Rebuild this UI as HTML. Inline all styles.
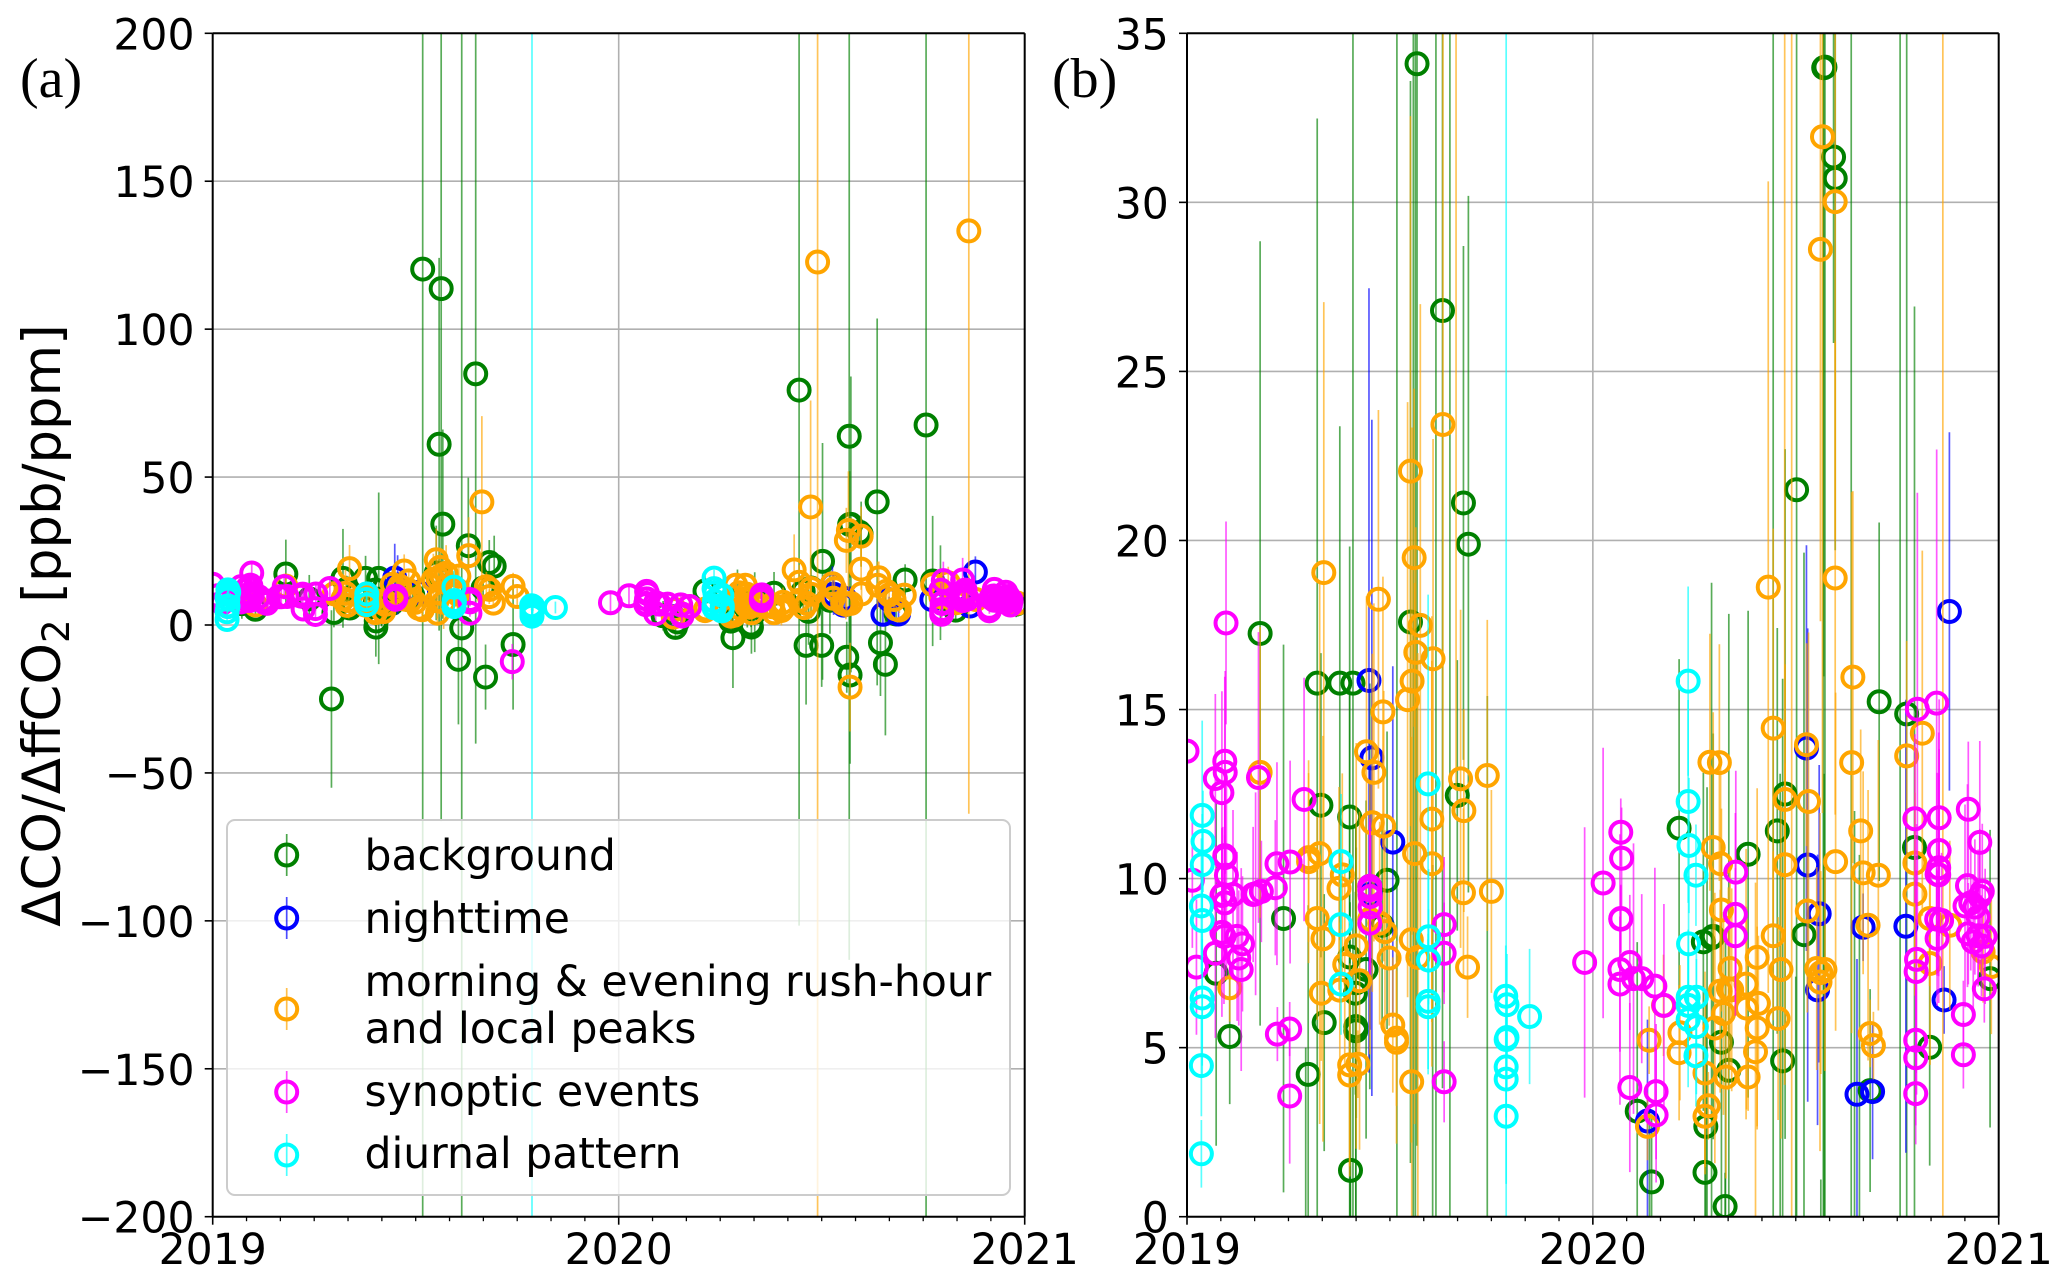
<!DOCTYPE html>
<html lang="en">
<head>
<meta charset="utf-8">
<title>Delta CO / Delta ffCO2 ratios</title>
<style>
html,body{margin:0;padding:0;background:#fff;width:2067px;height:1283px;overflow:hidden;}
svg{display:block;}
text{font-family:"DejaVu Sans","Liberation Sans",sans-serif;fill:#000;}
.serif{font-family:"Liberation Serif",serif;}
</style>
</head>
<body>
<svg id="figure" xmlns="http://www.w3.org/2000/svg" width="2067" height="1283" viewBox="0 0 2067 1283">
<defs>
<clipPath id="clip-a"><rect x="212.7" y="33.3" width="812" height="1183.4"/></clipPath>
<clipPath id="clip-b"><rect x="1187" y="33.3" width="811.7" height="1183.4"/></clipPath>
</defs>
<g id="panel-a"></g>
<g id="panel-b"></g>
<text class="serif" x="20" y="97" font-size="56">(a)</text>
<text class="serif" x="1052" y="97" font-size="56">(b)</text>
<text transform="translate(60,625.5) rotate(-90)" text-anchor="middle" font-size="52.9">ΔCO/ΔffCO<tspan font-size="37" dy="9">2</tspan><tspan dy="-9"> [ppb/ppm]</tspan></text>
<g>
<rect x="227" y="820" width="783" height="375" rx="8" ry="8" fill="#fff" fill-opacity="0.8" stroke="#cccccc" stroke-width="2"/>
<g>
<line x1="286.7" x2="286.7" y1="834" y2="876" stroke="#008000" stroke-width="1.7" opacity="0.7"/><circle cx="286.7" cy="855" r="10.5" fill="none" stroke="#008000" stroke-width="4"/>
<text x="364.5" y="870" font-size="42.5">background</text></g>
<g>
<line x1="286.7" x2="286.7" y1="897" y2="939" stroke="#0000ff" stroke-width="1.7" opacity="0.7"/><circle cx="286.7" cy="918" r="10.5" fill="none" stroke="#0000ff" stroke-width="4"/>
<text x="364.5" y="933" font-size="42.5">nighttime</text></g>
<g>
<line x1="286.7" x2="286.7" y1="988" y2="1030" stroke="#ffa500" stroke-width="1.7" opacity="0.7"/><circle cx="286.7" cy="1009" r="10.5" fill="none" stroke="#ffa500" stroke-width="4"/>
<text x="364.5" y="996" font-size="42.5">morning &amp; evening rush-hour</text>
<text x="364.5" y="1043" font-size="42.5">and local peaks</text></g>
<g>
<line x1="286.7" x2="286.7" y1="1071" y2="1113" stroke="#ff00ff" stroke-width="1.7" opacity="0.7"/><circle cx="286.7" cy="1092" r="10.5" fill="none" stroke="#ff00ff" stroke-width="4"/>
<text x="364.5" y="1106" font-size="42.5">synoptic events</text></g>
<g>
<line x1="286.7" x2="286.7" y1="1134" y2="1176" stroke="#00ffff" stroke-width="1.7" opacity="0.7"/><circle cx="286.7" cy="1155" r="10.5" fill="none" stroke="#00ffff" stroke-width="4"/>
<text x="364.5" y="1168" font-size="42.5">diurnal pattern</text></g>
</g>
</svg>
<script>
const xTicks = [0, 0.988, 1.976];
const xTickLabels = ["2019", "2020", "2021"];
const yTicksA = [200, 150, 100, 50, 0, -50, -100, -150, -200];
const yTicksB = [35, 30, 25, 20, 15, 10, 5, 0];

const backgroundDates = [.56,.622,.673,.685,.544,.178,.317,.372,.404,.326,.396,.658,.487,.445,.235,.475,.071,.104,.396,.436,.41,.412,.334,.411,.411,.295,.398,.511,.556,.64,.551,.731,.598,.664,.289,.606,1.427,1.549,1.736,1.617,1.484,1.55,1.574,1.578,1.444,1.482,1.543,1.551,1.625,1.637,1.266,1.311,.397,1.126,1.198,1.366,1.437,1.456,1.685,1.752,1.771,1.502,1.277,1.257,1.281,1.301,1.319,1.45,1.808,1.955,1.096,1.131,1.261,1.263,1.31,1.663,1.553];
const backgroundValues = [34.1,26.8,21.11,19.89,17.59,17.25,15.78,15.78,15.78,12.17,11.82,12.46,9.95,9.77,8.82,8.62,7.2,5.33,7.68,7.31,6.61,6.92,5.74,5.62,5.5,4.21,1.37,120.3,113.7,84.9,61.1,-6.6,-11.6,-17.6,-25,-1,79.4,63.8,67.6,41.6,21.5,33.98,31.34,30.71,-6.9,-6.9,-10.9,-16.9,-6,-13.3,-4.3,-.7,-.7,-.8,11.49,10.72,11.41,12.5,15.23,14.87,10.92,8.34,8.25,8.13,8.29,5.16,4.33,4.61,5.01,7.04,3.12,1.03,1.31,2.67,.3,3.73,34];
const backgroundErrors = [32,23,7.6,10.3,16,11.6,16.7,7.6,29,4.5,8,4,4.4,6,8.1,3,5.1,2,8,5,3,4,3.8,6,6,5,3,340,180,125,63,22,22,11,30,400,181,177,300,62,40,18,5.5,11,20,14,12,30,18,24,17,9,10,4,5,7.2,6,10.2,5.3,22,16,11.3,10.5,5,6,6,13.5,11.3,3.5,4.4,5,2,2,4,1,3,50];

const nighttimeDates = [.443,.45,.501,.446,1.121,1.508,1.511,1.539,1.535,1.631,1.669,1.646,1.75,1.843,1.856];
const nighttimeValues = [15.86,13.57,11.08,9.53,2.83,13.86,10.4,8.96,6.71,3.62,3.7,8.56,8.59,6.41,17.9];
const nighttimeErrors = [11.6,10,5.2,4,3,6,7,4.4,4,4,2,1,6.7,1,5.3];

const rushHourDates = [.333,.466,.623,.544,.553,.568,.557,.599,.548,.537,.477,.437,.455,.178,.451,.479,.596,.666,.731,.674,.554,.596,.673,.741,.296,.323,.296,.378,.37,.317,.331,.412,.384,.42,.327,.372,.482,.445,.469,.546,.562,.492,.683,.104,.396,.416,.396,.501,.51,.51,.547,1.415,1.547,1.578,1.542,1.578,1.472,1.84,1.551,.655,1.455,1.621,1.427,1.79,1.508,1.752,1.618,1.273,1.296,1.456,1.513,1.64,1.281,1.299,1.456,1.579,1.646,1.683,1.772,1.772,1.301,1.51,1.658,1.427,1.808,1.857,1.388,1.322,1.446,1.533,1.553,1.543,1.541,1.809,1.938,1.958,1.361,1.318,1.326,1.298,1.391,1.362,1.306,1.16,1.285,1.388,1.439,1.2,1.198,1.125,1.384,1.261,1.312,1.366,1.269,1.261,1.121,1.663,1.671];
const rushHourValues = [19.05,18.26,23.43,22.05,19.49,17.49,16.69,16.5,15.84,15.29,14.93,13.75,13.14,13.14,11.65,11.55,11.76,12.95,13.05,12.01,10.74,10.44,9.58,9.62,10.62,10.74,10.5,10.11,9.71,8.82,8.22,8.01,7.46,6.98,6.61,6.7,8.43,8.8,8.68,8.19,7.67,7.65,7.38,6.77,4.49,4.51,4.19,5.67,5.28,5.16,3.99,18.62,31.94,30.02,28.61,18.89,122.7,133.2,-21,41.6,39.9,15.96,14.45,14.3,13.96,13.63,13.43,13.44,13.43,12.34,12.28,11.41,10.92,10.44,10.41,10.5,10.17,10.1,10.46,9.54,9.07,9.04,8.62,8.31,8.82,8.62,7.67,7.34,7.31,7.34,7.31,7.22,6.94,7.49,7.83,7.4,6.88,6.74,6.71,6.67,6.31,6.17,6.01,6.25,5.58,5.58,5.86,5.44,4.85,5.22,4.88,4.25,4.13,4.13,3.28,2.97,2.67,5.42,5.06];
const rushHourErrors = [8,5.6,13,10.5,5,9.5,3.7,6.5,7.5,8.8,4,4.6,5,4.3,5,4,6,5,4.6,3,8,6,2.5,3,2.5,8,3,3,3,3,6,6,3,5,2,2,3,4,3,6,9,2,1.5,1,3,1,3,2,2,3,4,12,20,10,11,7,400,197,15,29,36,5.5,5.9,5.4,3,3.4,8,3.8,3.5,4,5,3,4,3,3,5,3,4,3,3,3,3,4,2.5,2,2.5,5,3,5,3,3,3,5,3,1.5,2,4,3,3,3,2,3,3,1.5,4,3,3,2,2,1,5,3,3,1,1,1.5,1,1,1];

const synopticDates = [0,.095,.092,.069,.093,.085,.174,.285,.092,.092,.096,.087,.085,.092,.013,.112,.167,.181,.161,.219,.251,.215,.085,.09,.122,.135,.126,.069,.132,.023,.22,.25,.25,.626,.626,.626,.445,.445,.446,.446,.445,.968,1.013,1.056,1.058,1.056,1.056,1.078,1.054,1.054,1.107,1.087,1.139,1.161,1.078,1.142,1.142,1.336,1.335,1.335,1.778,1.825,1.772,1.831,1.902,1.93,1.831,1.83,1.83,1.826,1.9,1.936,1.93,1.894,1.908,1.918,1.926,1.825,1.837,1.826,1.776,1.775,1.902,1.914,1.926,1.943,1.934,1.941,1.89,1.89,1.774,1.774,1.774,.729];
const synopticValues = [13.77,17.56,13.47,12.96,13.14,12.54,12.99,12.34,10.62,10.68,10.1,9.53,9.5,9.28,9.95,9.53,9.55,9.62,9.53,10.44,10.49,9.73,8.41,8.29,8.29,8.07,7.65,7.79,7.31,7.38,5.4,5.55,3.57,8.64,7.79,3.99,9.77,9.67,9.47,9.16,8.68,7.52,9.87,11.37,10.6,8.8,8.82,7.52,7.31,6.88,7.04,7.04,6.82,6.25,3.82,3.7,3.01,10.19,8.94,8.31,15.01,15.19,11.77,11.8,12.05,11.07,10.83,10.32,10.11,10.13,9.79,9.62,9.47,9.19,9.28,9.16,8.86,8.8,8.76,8.23,7.61,7.25,8.37,8.13,8.31,8.29,8.01,6.74,5.98,4.79,5.22,4.7,3.64,-12.4];
const synopticErrors = [2,3,2.5,2.5,3,3,4.3,3.6,2.5,2,3,2,2,2,2,2.5,3,1.5,2,3,3,2,2.5,2,2.5,2,2,2.5,3,2,.8,.8,2,2,1.5,1.2,2,2,2,2,1.5,4,4,1,1.5,1,1,2,4,2,2.5,4,3.5,3,2.5,2,2,3,3,2,6.4,7.5,2.5,3.5,2,3,3,4,3,3,3,2,2,3,2,2,2,1.5,2,2,4,3,1.5,2,1.5,2,1.5,1,1,1,2,2,1.5,6];

const diurnalDates = [.037,.039,.037,.035,.037,.037,.037,.035,.035,.375,.374,.375,.587,.588,.588,.587,.587,.776,.779,.779,.777,.777,.777,.777,.834,1.22,1.22,1.222,1.239,1.221,1.22,1.24,1.22,1.22,1.24,1.239];
const diurnalValues = [11.87,11.1,10.41,9.19,8.76,6.47,6.21,4.47,1.86,10.5,8.64,6.88,12.8,8.28,7.59,6.37,6.21,6.52,6.27,5.3,5.24,4.43,4.07,2.97,5.92,15.84,12.28,10.98,10.1,8.07,6.49,6.49,6.25,5.83,5.62,4.76];
const diurnalErrors = [2.8,1.5,1.5,2,1.5,2,2,1.5,1,2,2,1.5,5.6,2,1.5,2,2,1.5,1.5,1.5,400,1.5,1.5,2,2,2.8,3,2,1.5,2,2,1.5,1.5,2,2,1.5];

const seriesList = [
  {key: "background", color: "#008000", dates: backgroundDates, values: backgroundValues, errors: backgroundErrors},
  {key: "nighttime", color: "#0000ff", dates: nighttimeDates, values: nighttimeValues, errors: nighttimeErrors},
  {key: "rush-hour", color: "#ffa500", dates: rushHourDates, values: rushHourValues, errors: rushHourErrors},
  {key: "synoptic", color: "#ff00ff", dates: synopticDates, values: synopticValues, errors: synopticErrors},
  {key: "diurnal", color: "#00ffff", dates: diurnalDates, values: diurnalValues, errors: diurnalErrors}
];

const NS = "http://www.w3.org/2000/svg";
function make(parent, tag, attrs) {
  const el = document.createElementNS(NS, tag);
  for (const k in attrs) el.setAttribute(k, attrs[k]);
  parent.appendChild(el);
  return el;
}

function drawPanel(panelId, clipId, left, right, top, bottom, yMin, yMax, yTicks, tickRight) {
  const host = document.getElementById(panelId);
  const xMax = xTicks[xTicks.length - 1];
  const xScale = t => left + (t / xMax) * (right - left);
  const yScale = v => bottom - (v - yMin) / (yMax - yMin) * (bottom - top);
  const clampY = y => Math.min(bottom, Math.max(top, y));

  const grid = make(host, "g", {});
  
  
  yTicks.forEach(v => {
    const g = make(grid, "line", {x1: left, x2: right, y1: yScale(v), y2: yScale(v), stroke: "#b0b0b0", "stroke-width": 1.6});
    
    
  });
  xTicks.forEach(t => {
    const g = make(grid, "line", {x1: xScale(t), x2: xScale(t), y1: top, y2: bottom, stroke: "#b0b0b0", "stroke-width": 1.6});
    
    
  });

  const plot = make(host, "g", {"clip-path": "url(#" + clipId + ")"});
  
  
  seriesList.forEach(s => {
    const sg = make(plot, "g", {});
    
    
    s.dates.forEach((t, i) => {
      const hi = s.values[i] + s.errors[i];
      const lo = s.values[i] - s.errors[i];
      if (hi < yMin || lo > yMax) return;
      const bar = make(sg, "line", {x1: xScale(t), x2: xScale(t), y1: clampY(yScale(hi)), y2: clampY(yScale(lo)), stroke: s.color, "stroke-width": 1.7, opacity: 0.65});
      
      
    });
    s.dates.forEach((t, i) => {
      const cy = yScale(s.values[i]);
      if (cy < top - 13 || cy > bottom + 13) return;
      const pt = make(sg, "circle", {cx: xScale(t), cy: cy, r: 10.5, fill: "none", stroke: s.color, "stroke-width": 4});
      
      
    });
  });

  const axes = make(host, "g", {});
  
  
  make(axes, "line", {x1: left, x2: left, y1: top, y2: bottom, stroke: "#000", "stroke-width": 2});
  make(axes, "line", {x1: right, x2: right, y1: top, y2: bottom, stroke: "#000", "stroke-width": 2});
  make(axes, "line", {x1: left, x2: right, y1: top, y2: top, stroke: "#000", "stroke-width": 2});
  make(axes, "line", {x1: left, x2: right, y1: bottom, y2: bottom, stroke: "#000", "stroke-width": 2});

  yTicks.forEach(v => {
    make(axes, "line", {x1: left - 8, x2: left, y1: yScale(v), y2: yScale(v), stroke: "#000", "stroke-width": 1.6});
    const label = make(axes, "text", {x: tickRight, y: yScale(v) + 16, "text-anchor": "end", "font-size": 42.5});
    label.textContent = String(v).replace("-", "\u2212");
    
    
  });

  xTicks.forEach((t, i) => {
    make(axes, "line", {x1: xScale(t), x2: xScale(t), y1: bottom, y2: bottom + 8, stroke: "#000", "stroke-width": 1.6});
    const label = make(axes, "text", {x: xScale(t), y: 1264, "text-anchor": "middle", "font-size": 42.5});
    label.textContent = xTickLabels[i];
    
    
  });
  for (let m = 1; m < 24; m++) {
    if (m === 12) continue;
    const mx = left + (m / 24) * (right - left);
    make(axes, "line", {x1: mx, x2: mx, y1: bottom, y2: bottom + 4.5, stroke: "#000", "stroke-width": 1.3});
  }
}

drawPanel("panel-a", "clip-a", 212.7, 1024.7, 33.3, 1216.7, -200, 200, yTicksA, 194.5);
drawPanel("panel-b", "clip-b", 1187, 1998.7, 33.3, 1216.7, 0, 35, yTicksB, 1168.8);
</script>
</body>
</html>
